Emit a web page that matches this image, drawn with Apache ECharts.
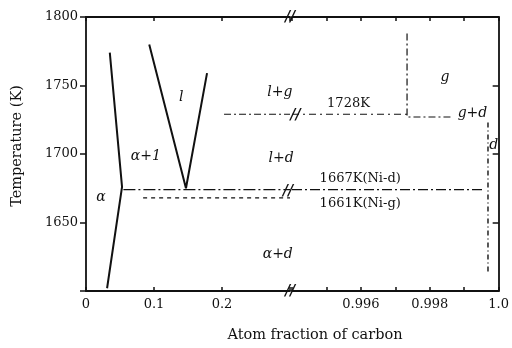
<!DOCTYPE html>
<html>
<head>
<meta charset="utf-8">
<script src="https://cdn.jsdelivr.net/npm/echarts@6/dist/echarts.min.js"></script>
<style>
html, body { margin: 0; padding: 0; background: #fff; }
#main { width: 512px; height: 348px; }
</style>
</head>
<body>
<div id="main"></div>
<script>
// 相图数据 (x: 碳原子分数, y: 温度K)
var alphaLine = [[0.035, 1774], [0.053, 1676], [0.031, 1602]];
var liquidus = [[0.093, 1780], [0.147, 1675], [0.178, 1759]];
var line1728Left = [[0.203, 1729], [0.3, 1729]];
var line1728Right = [[0.994, 1729], [0.99734, 1729]];
var gBoundary = [[0.99734, 1788], [0.99734, 1727], [0.9986, 1727]];
var line1667Left = [[0.055, 1674], [0.3, 1674]];
var line1667Right = [[0.994, 1674], [0.99955, 1674]];
var line1661Left = [[0.084, 1668], [0.3, 1668]];
var dBoundary = [[0.99969, 1723], [0.99969, 1612]];

// 相区标注
var phaseLeft = [[0.022, 1668, 'α'], [0.088, 1698, 'α+1'], [0.14, 1741, 'l'],
    [0.285, 1745, 'l+g'], [0.287, 1697, 'l+d'], [0.282, 1627, 'α+d']];
var phaseRight = [[0.99844, 1756, 'g'], [0.99924, 1730, 'g+d'], [0.99986, 1706, 'd']];
var tempRight = [[0.99564, 1737, '1728K'], [0.99598, 1682, '1667K(Ni-d)'], [0.99598, 1664, '1661K(Ni-g)']];
var breakLeft = [[0.3, 1800, '//'], [0.3, 1600, '//'], [0.297, 1673, '//']];
var breakRight = [[0.9941, 1728, '//']];

// 刻度
var xTicksLeft = [0, 0.1, 0.2];
var xTicksRight = [0.996, 0.998, 1.0];
var yTicks = [1650, 1700, 1750, 1800];

var ink = '#111';
var serif = 'DejaVu Serif';

var chart = echarts.init(document.getElementById('main'));

function lineSeries(data, xi, dash, width) {
    return {
        type: 'line', xAxisIndex: xi, yAxisIndex: xi < 2 ? 0 : 1,
        data: data, showSymbol: false, silent: true, animation: false,
        lineStyle: { color: ink, width: width || 1.2, type: dash || 'solid' }
    };
}

function textSeries(data, xi, italic, size, bold) {
    return {
        type: 'scatter', xAxisIndex: xi, yAxisIndex: xi < 2 ? 0 : 1,
        data: data, symbolSize: 1, silent: true, animation: false,
        itemStyle: { color: 'rgba(0,0,0,0)', opacity: 1 },
        label: {
            show: true, position: 'inside', color: ink, opacity: 1,
            textBorderWidth: 0,
            fontFamily: serif, fontSize: size || 14,
            fontStyle: italic ? 'italic' : 'normal',
            fontWeight: bold ? 'bold' : 'normal',
            formatter: function (p) { return p.value[2]; }
        }
    };
}

function xAxisCfg(grid, min, max, interval, pos, labels) {
    return {
        type: 'value', gridIndex: grid, min: min, max: max, interval: interval,
        position: pos, splitLine: { show: false },
        axisLine: { show: true, lineStyle: { color: ink, width: 1.8 } },
        axisTick: { show: true, inside: true, length: 4, lineStyle: { color: ink, width: 1.5 } },
        axisLabel: {
            show: !!labels, color: ink, fontFamily: serif, fontSize: 13, margin: 7,
            formatter: function (v) {
                if (!labels) return '';
                for (var i = 0; i < labels.length; i++) {
                    if (Math.abs(labels[i] - v) < 1e-7) return labels[i] === 0 ? '0' : (labels[i] === 1 ? '1.0' : String(labels[i]));
                }
                return '';
            }
        }
    };
}

var option = {
    backgroundColor: '#fff',
    animation: false,
    grid: [
        { left: 86, top: 17, width: 204, height: 274 },
        { left: 292, top: 17, width: 212, height: 274 }
    ],
    xAxis: [
        xAxisCfg(0, 0, 0.3, 0.1, 'bottom', xTicksLeft),
        xAxisCfg(0, 0, 0.3, 0.1, 'top', null),
        xAxisCfg(1, 0.994, 1.0, 0.001, 'bottom', xTicksRight),
        xAxisCfg(1, 0.994, 1.0, 0.001, 'top', null)
    ],
    yAxis: [
        {
            type: 'value', gridIndex: 0, min: 1600, max: 1800, interval: 50, position: 'left',
            splitLine: { show: false },
            axisLine: { show: true, lineStyle: { color: ink, width: 1.8 } },
            axisTick: { show: true, inside: false, length: 6, lineStyle: { color: ink, width: 1.5 } },
            axisLabel: {
                color: ink, fontFamily: serif, fontSize: 13, margin: 8,
                formatter: function (v) { return yTicks.indexOf(v) >= 0 ? String(v) : ''; }
            }
        },
        {
            type: 'value', gridIndex: 1, min: 1600, max: 1800, interval: 50, position: 'right',
            splitLine: { show: false },
            axisLine: { show: true, lineStyle: { color: ink, width: 1.8 } },
            axisTick: { show: true, inside: true, length: 6, lineStyle: { color: ink, width: 1.5 } },
            axisLabel: { show: false }
        }
    ],
    graphic: [
        {
            type: 'text', x: 315, y: 335,
            style: { text: 'Atom fraction of carbon', font: '14.5px "DejaVu Serif"', fill: ink, textAlign: 'center', textVerticalAlign: 'middle' }
        },
        {
            type: 'text', x: 17, y: 146, rotation: Math.PI / 2,
            style: { text: 'Temperature (K)', font: '14.5px "DejaVu Serif"', fill: ink, textAlign: 'center', textVerticalAlign: 'middle' }
        }
    ],
    series: [
        lineSeries(alphaLine, 0, 'solid', 2),
        lineSeries(liquidus, 0, 'solid', 2),
        lineSeries(line1728Left, 0, [7, 3, 2, 3], 1.2),
        lineSeries(line1728Right, 2, [7, 4, 2, 4], 1.2),
        lineSeries(gBoundary, 2, [7, 3, 2, 3], 1.2),
        lineSeries(line1667Left, 0, [12, 3, 2, 3], 1.4),
        lineSeries(line1667Right, 2, [10, 3, 2, 3], 1.2),
        lineSeries(line1661Left, 0, [4, 4], 1.2),
        lineSeries(dBoundary, 2, [5, 3, 1, 3], 1.4),
        textSeries(phaseLeft, 0, true, 14),
        textSeries(phaseRight, 2, true, 14),
        textSeries(tempRight, 2, false, 13),
        textSeries(breakLeft, 0, true, 14, true),
        textSeries(breakRight, 2, true, 14, true)
    ]
};

chart.setOption(option);
</script>
</body>
</html>
